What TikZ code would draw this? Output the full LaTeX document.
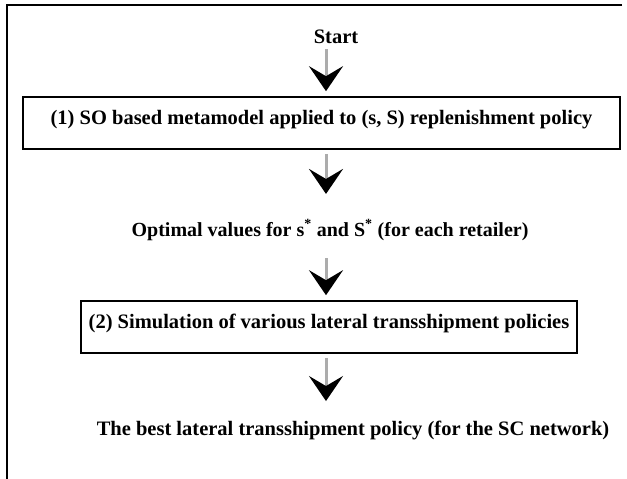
\documentclass[tikz,border=0pt]{standalone}
\usepackage{fontspec}
\setmainfont{Liberation Serif}
\usetikzlibrary{arrows.meta,positioning}
\begin{document}
\begin{tikzpicture}[x=1pt,y=-1pt,font=\fontsize{20.5}{24}\selectfont\bfseries]
\tikzstyle{stepbox}=[draw,line width=1.6pt,minimum height=52pt,inner sep=0pt,
                     text height=14pt,text depth=12pt]
\tikzstyle{flow}=[->,draw=gray!65,line width=3pt]
\tikzset{>={Stealth[black,length=25pt,width=34pt,inset=10pt]}}
\useasboundingbox (0,0) rectangle (627,479);
\draw[line width=1.2pt] (622,5) -- (7,5) -- (7,479);
\coordinate (axis) at (326,0);
\node (start) at (336,37) {Start};
\node[stepbox,minimum width=597pt] (so) at (321.5,123)
     {(1) SO based metamodel applied to (s, S) replenishment policy};
\node[font=\fontsize{20}{24}\selectfont\bfseries] (opt) at (330,230)
     {Optimal values for s\textsuperscript{*} and S\textsuperscript{*} (for each retailer)};
\node[stepbox,minimum width=496pt] (sim) at (329,327)
     {(2) Simulation of various lateral transshipment policies};
\node (best) at (353,430)
     {The best lateral transshipment policy (for the SC network)};
\draw[flow,shorten <=2pt,shorten >=5pt] (start.south -| axis) -- (so.north -| axis);
\draw[flow,shorten <=4pt,shorten >=22pt] (so.south -| axis) -- (opt.north -| axis);
\draw[flow,shorten <=14pt,shorten >=5pt] (opt.south -| axis) -- (sim.north -| axis);
\draw[flow,shorten <=4pt,shorten >=16pt] (sim.south -| axis) -- (best.north -| axis);
\end{tikzpicture}
\end{document}
